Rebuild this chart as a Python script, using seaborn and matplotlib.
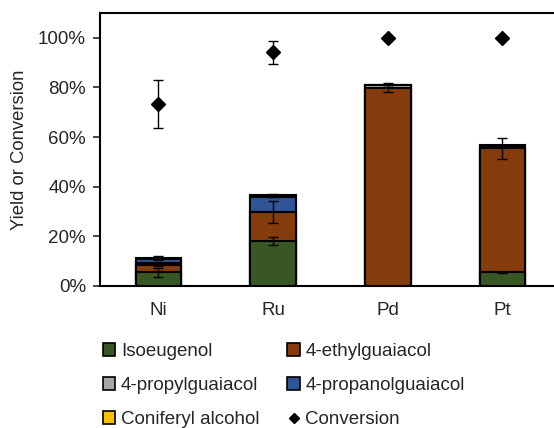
import numpy as np
import pandas as pd
import matplotlib
matplotlib.use("Agg")
import matplotlib.pyplot as plt
import seaborn as sns
from matplotlib.patches import Patch
from matplotlib.lines import Line2D

# Data (fractions of 1)
catalysts = ["Ni", "Ru", "Pd", "Pt"]
isoeugenol = [0.055, 0.183, 0.0, 0.055]
ethylguaiacol = [0.030, 0.114, 0.798, 0.500]
propylguaiacol = [0.006, 0.0, 0.012, 0.004]
propanolguaiacol = [0.016, 0.063, 0.0, 0.005]
coniferyl_alcohol = [0.007, 0.006, 0.0, 0.004]
conversion = [0.733, 0.941, 1.0, 1.0]

# error bars (drawn at the stacked top of each series)
err_isoeugenol = [0.018, 0.016, 0.0, 0.003]
err_ethylguaiacol = [0.006, 0.045, 0.018, 0.043]
err_top = [0.008, 0.006, 0.0, 0.0]
err_conversion = [0.096, 0.046, 0.0, 0.0]

series_names = ["Isoeugenol", "4-ethylguaiacol", "4-propylguaiacol",
                "4-propanolguaiacol", "Coniferyl alcohol"]
series_colors = ["#385723", "#843C0C", "#A6A6A6", "#2F5597", "#FFC000"]

sns.set_style("white")
plt.rcParams['font.family'] = ['Liberation Sans', 'DejaVu Sans']
text_color = "#262626"

df = pd.DataFrame({
    "catalyst": catalysts,
    "Isoeugenol": isoeugenol,
    "4-ethylguaiacol": ethylguaiacol,
    "4-propylguaiacol": propylguaiacol,
    "4-propanolguaiacol": propanolguaiacol,
    "Coniferyl alcohol": coniferyl_alcohol,
})
cum = df[series_names].cumsum(axis=1)

fig = plt.figure(figsize=(5.54, 4.28), dpi=100)
ax = fig.add_axes([0.1805, 0.3318, 0.830, 0.638])

# stacked bars: draw cumulative totals from the top series down
for name, color in reversed(list(zip(series_names, series_colors))):
    sns.barplot(x=df["catalyst"], y=cum[name], color=color, width=0.4,
                edgecolor="black", linewidth=1.5, saturation=1, ax=ax)

x = np.arange(len(catalysts))
ebar_kw = dict(fmt="none", ecolor="black", elinewidth=1, capsize=3.5, capthick=1, zorder=5)
ax.errorbar(x, cum["Isoeugenol"], yerr=err_isoeugenol, **ebar_kw)
ax.errorbar(x, cum["4-ethylguaiacol"], yerr=err_ethylguaiacol, **ebar_kw)
ax.errorbar(x, cum["Coniferyl alcohol"], yerr=err_top, **ebar_kw)

# conversion markers
ax.errorbar(x, conversion, yerr=err_conversion, fmt="D", color="black",
            markersize=7, elinewidth=1, capsize=3.5, capthick=1, zorder=6)

ax.set_xlim(-0.51, 3.5)
ax.set_ylim(0, 1.1)
ax.set_yticks(np.arange(0, 1.01, 0.2))
ax.set_yticklabels([f"{int(round(v * 100))}%" for v in np.arange(0, 1.01, 0.2)])
ax.set_xlabel("")
ax.set_ylabel("Yield or Conversion", fontsize=13.3, color=text_color, labelpad=7)
ax.tick_params(axis="y", which="major", left=True, length=5, width=1.2,
               labelsize=13.5, labelcolor=text_color, direction="out", pad=5)
ax.tick_params(axis="x", bottom=False, labelsize=13.5, labelcolor=text_color, pad=8)
for side in ["left", "bottom", "top", "right"]:
    ax.spines[side].set_color("black")
    ax.spines[side].set_linewidth(1.5)

# legend
def box(c):
    return Patch(facecolor=c, edgecolor="black", linewidth=1.2)

handles = [box(series_colors[0]), box(series_colors[2]), box(series_colors[4]),
           box(series_colors[1]), box(series_colors[3]),
           Line2D([], [], marker="D", color="black", linestyle="none", markersize=5)]
labels = [series_names[0], series_names[2], series_names[4],
          series_names[1], series_names[3], "Conversion"]
fig.legend(handles, labels, loc="upper left", bbox_to_anchor=(0.186, 0.198),
           ncol=2, frameon=False, fontsize=13.5, handlelength=0.65, handleheight=0.65,
           handletextpad=0.3, columnspacing=1.5, labelspacing=0.9, borderaxespad=0,
           borderpad=0, labelcolor=text_color)

fig.savefig("out.png", dpi=100)
